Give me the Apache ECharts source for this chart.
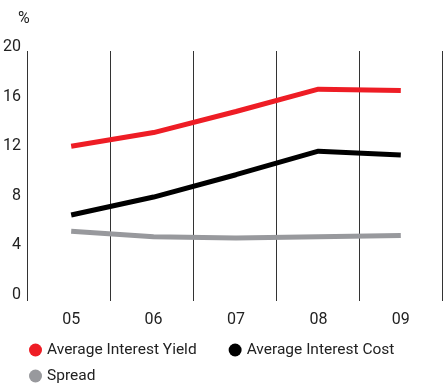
<!DOCTYPE html>
<html><head><meta charset="utf-8">
<script src="https://cdn.jsdelivr.net/npm/echarts@6/dist/echarts.min.js"></script>
<style>html,body{margin:0;padding:0;background:#fff}#c{width:443px;height:384px}</style>
</head><body><div id="c"></div>
<script>
const categories = ['05','06','07','08','09'];
const yieldVals = [12.0, 13.1, 14.8, 16.6, 16.5];
const costVals = [6.45, 7.9, 9.7, 11.6, 11.3];
const spreadVals = [5.15, 4.7, 4.6, 4.7, 4.8];
const yTicks = [0, 4, 8, 12, 16, 20];
const names = ['Average Interest Yield', 'Average Interest Cost', 'Spread'];

const font = 'Roboto';
const chart = echarts.init(document.getElementById('c'), null, {renderer: 'canvas'});
chart.setOption({
  animation: false,
  textStyle: {fontFamily: font},
  title: {text: '%', left: 13, top: 6, textStyle: {fontSize: 16, fontWeight: 'normal', color: '#222', fontFamily: font}},
  grid: [
    {left: 27, right: 1, top: 47, bottom: 89, containLabel: false},
    {left: 27, right: 1, top: 51, bottom: 83, containLabel: false}
  ],
  legend: [
    {data: [names[0], names[1]], left: 24, top: 337, icon: 'circle', itemWidth: 13, itemHeight: 13, itemGap: 32,
     textStyle: {fontSize: 15.5, color: '#222', fontFamily: font}},
    {data: [names[2]], left: 24, top: 363, icon: 'circle', itemWidth: 13, itemHeight: 13,
     textStyle: {fontSize: 15.5, color: '#222', fontFamily: font}}
  ],
  xAxis: [
    {
      type: 'category', data: categories, boundaryGap: true, gridIndex: 0,
      axisLine: {show: false}, axisTick: {show: false}, splitLine: {show: false},
      axisLabel: {fontSize: 16, color: '#222', margin: 17, fontFamily: font}
    },
    {
      type: 'category', data: categories, boundaryGap: true, gridIndex: 1,
      axisLine: {show: false}, axisTick: {show: false}, axisLabel: {show: false},
      splitLine: {show: true, lineStyle: {color: '#333', width: 1}}
    }
  ],
  yAxis: [
    {
      type: 'value', min: 0, max: 20, interval: 4, gridIndex: 0,
      axisLine: {show: false}, axisTick: {show: false}, splitLine: {show: false},
      axisLabel: {fontSize: 16, color: '#222', margin: 9, fontFamily: font,
        formatter: v => yTicks.includes(v) ? String(v) : ''}
    },
    {type: 'value', min: 0, max: 20, gridIndex: 1, show: false, splitLine: {show: false}}
  ],
  series: [
    {name: names[0], type: 'line', data: yieldVals, symbol: 'none', color: '#ee1d25', lineStyle: {width: 5, color: '#ee1d25'}},
    {name: names[1], type: 'line', data: costVals, symbol: 'none', color: '#000000', lineStyle: {width: 5, color: '#000000'}},
    {name: names[2], type: 'line', data: spreadVals, symbol: 'none', color: '#98999d', lineStyle: {width: 5, color: '#98999d'}}
  ]
});
</script></body></html>
